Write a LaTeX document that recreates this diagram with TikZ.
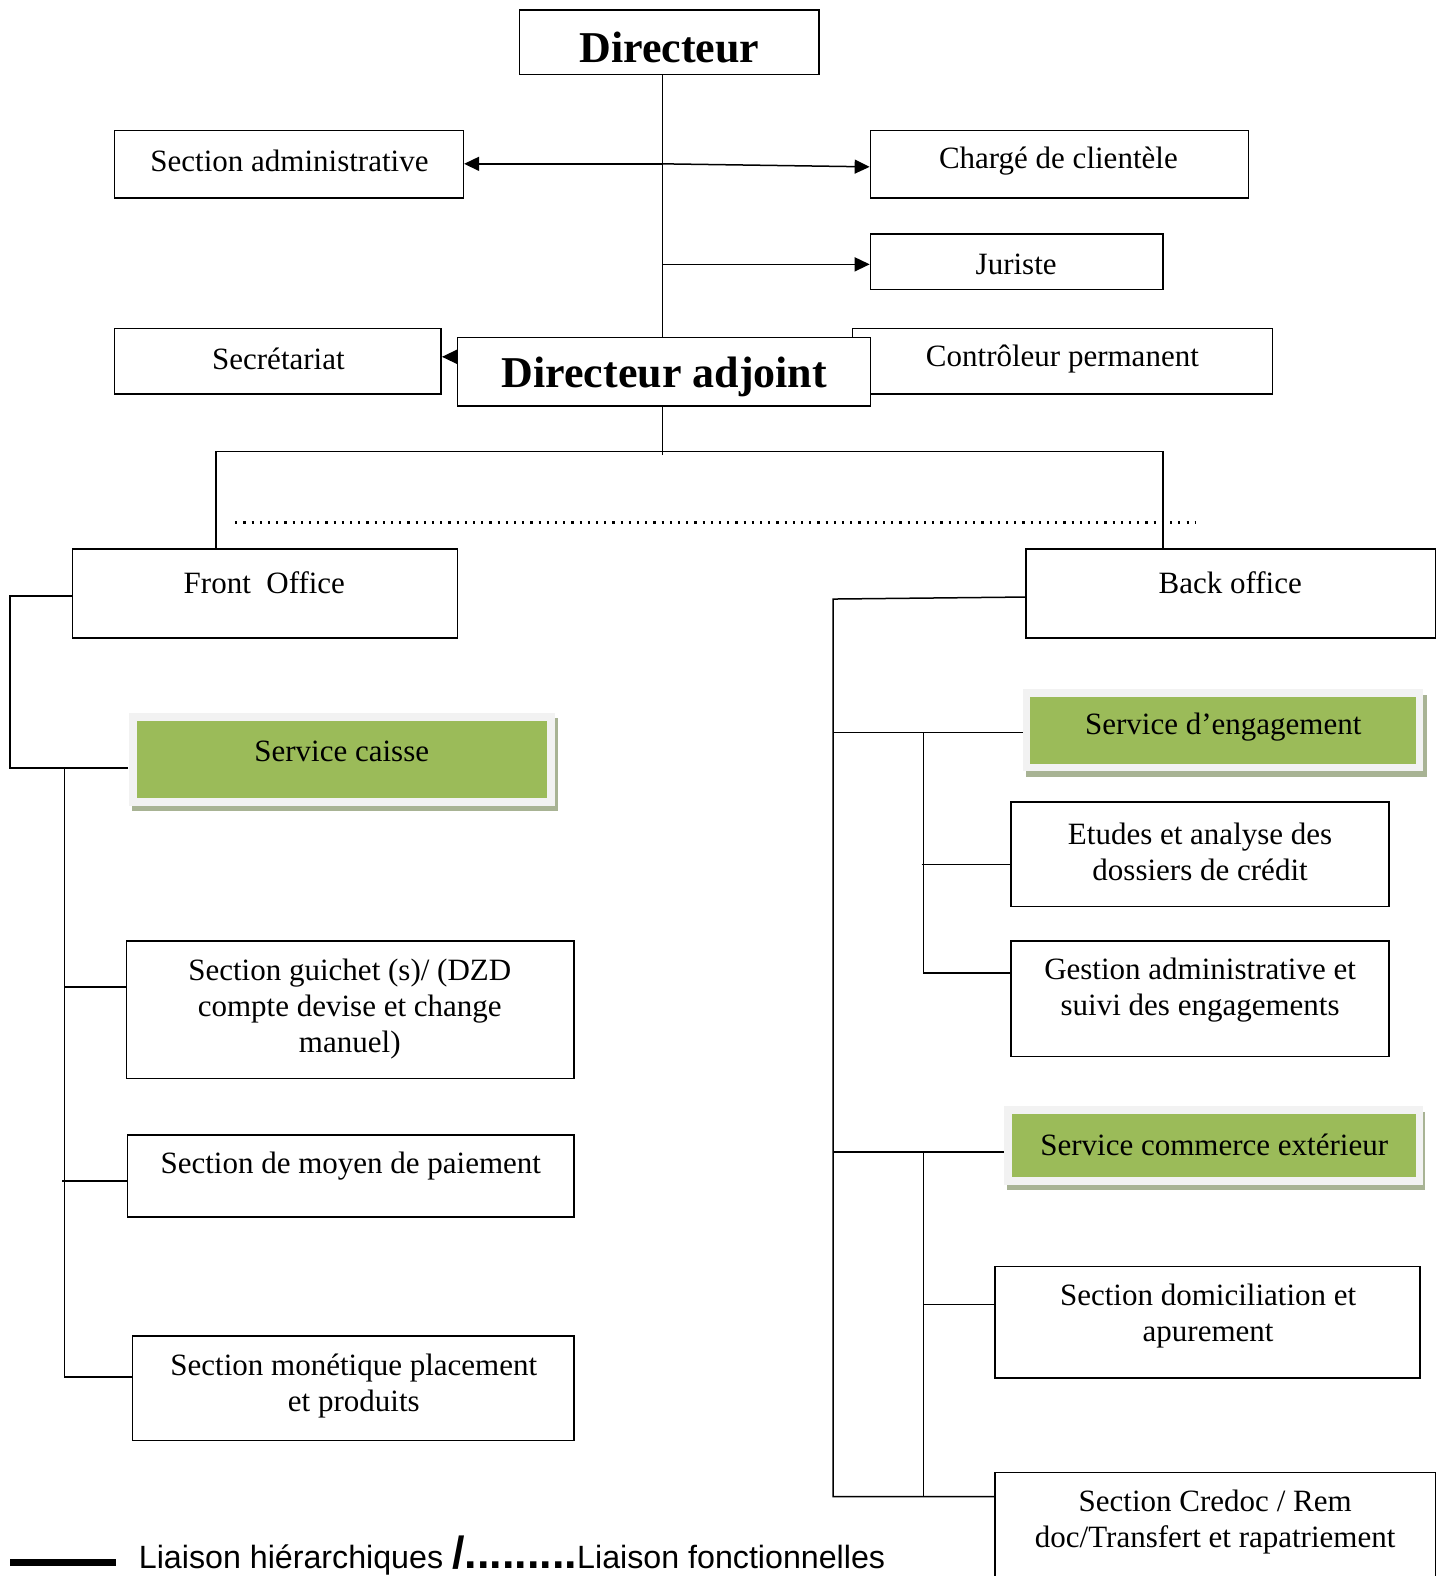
\documentclass[tikz,border=0pt]{standalone}
\usepackage{fontspec}
\setmainfont{Liberation Serif}
\newfontfamily\legendfont{Liberation Sans}
\usetikzlibrary{fit,arrows.meta}
\definecolor{grn}{HTML}{9BBB59}
\definecolor{frm}{HTML}{F2F2F2}
\definecolor{shd}{HTML}{A8B394}
\begin{document}
\begin{tikzpicture}[x=1.005pt,y=-1.005pt,
  box/.style={draw,line width=1.5pt,inner sep=0pt,fill=white},
  frame/.style={fill=frm,inner sep=0pt},
  gbox/.style={fill=grn,inner sep=0pt},
  lbl/.style={font=\fontsize{31}{36}\selectfont,align=center,inner sep=0pt,yshift=-2.5pt},
  big/.style={font=\fontsize{44}{50}\selectfont\bfseries,inner sep=0pt},
  ln/.style={line width=1.5pt},
  arr/.style={line width=1.5pt,-{Triangle[length=15pt,width=14pt]}}]
\clip (0,0) rectangle (1439,1568);
\fill[white] (0,0) rectangle (1439,1568);

% ---- top part ----
\node[box,fit={(517,10)(815,74)}] (dir) {};
\node[big] (dirt) at (666,47) {Directeur};

\node[box,fit={(114,130)(461,197)}] (secadm) {};
\node[lbl] (secadmt) at (288,158) {Section administrative};

\node[box,fit={(866,130)(1242,197)}] (charg) {};
\node[lbl] (chargt) at (1053,158) {Chargé de clientèle};

\node[box,fit={(866,233)(1157,288)}] (jur) {};
\node[lbl] (jurt) at (1011,261) {Juriste};

\node[box,fit={(114,327)(439,392)}] (secr) {};
\node[lbl] (secrt) at (277,355) {Secrétariat};

\node[box,fit={(848,327)(1266,392)}] (ctrl) {};
\node[lbl] (ctrlt) at (1057,355) {Contrôleur permanent};

\coordinate (tA) at (659,163);
\coordinate (tB) at (659,263);
\coordinate (tS) at (455,355);
\draw[ln] (tA |- dir.south) -- (tA |- 0,336);
\draw[arr] (tA) -- (secadm.east |- tA);
\draw[arr] (tA) -- ([yshift=-2.5pt]charg.west);
\draw[arr] (tB) -- (jur.west |- tB);

\node[box,fit={(455,336)(866,404)}] (adj) {};
\node[big] (adjt) at (661,375) {Directeur adjoint};
\draw[arr] (tS) -- (secr.east |- tS);

% ---- middle ----
\coordinate (tC) at (659,453);
\coordinate (hL) at (215,449);
\coordinate (hR) at (1157,449);
\draw[ln] (tA |- adj.south) -- (tC);
\node[box,fit={(72,546)(455,635)}] (front) {};
\node[lbl] (frontt) at (263,577) {Front\ \ Office};
\node[box,fit={(1021,546)(1428,635)}] (back) {};
\node[lbl] (backt) at (1224,577) {Back office};
\draw[ln] (front.north -| hL) -- (hL) -- (hR) -- (back.north -| hR);

\coordinate (d1) at (234,520);
\coordinate (d2) at (1190,520);
\draw[line width=2.6pt,dash pattern=on 2.2pt off 6pt] (d1) -- (d2);

% ---- left tree ----
\fill[shd] (131,714) rectangle (555,807);
\node[frame,fit={(128,709)(552,802)}] (caisse) {};
\node[gbox,fit={(136,717)(544,794)}] (caisseg) {};
\node[lbl] (caisset) at (340,745) {Service caisse};

\node[box,fit={(126,936)(571,1073)}] (guich) {};
\node[lbl] (guicht) at (348,1001) {Section guichet (s)/ (DZD\\compte devise et change\\manuel)};

\node[box,fit={(127,1129)(571,1211)}] (moyen) {};
\node[lbl] (moyent) at (349,1158) {Section de moyen de paiement};

\node[box,fit={(132,1329)(571,1433)}] (monet) {};
\node[lbl] (monett) at (352,1376) {Section monétique placement\\et produits};

\coordinate (L0) at (10,593);
\coordinate (L1) at (10,764);
\coordinate (V1) at (64,764);
\coordinate (V2) at (64,982);
\coordinate (V3) at (62,1175);
\coordinate (V4) at (64,1370);
\draw[ln] (front.west |- L0) -- (L0) -- (L1) -- (caisse.west |- L1);
\draw[ln] (V1) -- (V4) -- (monet.west |- V4);
\draw[ln] (V2) -- (guich.west |- V2);
\draw[ln] (V3) -- (moyen.west |- V3);

% ---- right tree ----
\fill[shd] (1021,691) rectangle (1420,773);
\node[frame,fit={(1018,685)(1416,767)}] (eng) {};
\node[gbox,fit={(1025,693)(1409,760)}] (engg) {};
\node[lbl] (engt) at (1217,721) {Service d’engagement};

\node[box,fit={(1006,798)(1382,902)}] (etud) {};
\node[lbl] (etudt) at (1194,845) {Etudes et analyse des\\dossiers de crédit};

\node[box,fit={(1006,936)(1382,1051)}] (gest) {};
\node[lbl] (gestt) at (1194,983) {Gestion administrative et\\suivi des engagements};

\fill[shd] (1002,1106) rectangle (1418,1184);
\node[frame,fit={(999,1100)(1416,1179)}] (comm) {};
\node[gbox,fit={(1007,1108)(1409,1171)}] (commg) {};
\node[lbl] (commt) at (1208,1137) {Service commerce extérieur};

\node[box,fit={(990,1260)(1413,1371)}] (domi) {};
\node[lbl] (domit) at (1202,1307) {Section domiciliation et\\apurement};

\node[box,fit={(990,1465)(1428,1590)}] (cred) {};
\node[lbl] (credt) at (1209,1512) {Section Credoc / Rem\\doc/Transfert et rapatriement};

\coordinate (R0) at (829,596);
\coordinate (R1) at (829,729);
\coordinate (R2) at (829,1146);
\coordinate (R3) at (829,1489);
\coordinate (S1) at (919,729);
\coordinate (S2) at (917,860);
\coordinate (S3) at (919,968);
\coordinate (T1) at (919,1146);
\coordinate (T2) at (919,1298);
\coordinate (T3) at (919,1489);
\draw[ln] (back.west |- 0,594) -- (R0) -- (R3) -- (cred.west |- R3);
\draw[ln] (R1) -- (eng.west |- R1);
\draw[ln] (S1) -- (S3) -- (gest.west |- S3);
\draw[ln] (S2) -- (etud.west |- S2);
\draw[ln] (R2) -- (comm.west |- R2);
\draw[ln] (T1) -- (T3);
\draw[ln] (T2) -- (domi.west |- T2);

% ---- legend ----
\coordinate (g1) at (10,1555);
\coordinate (g2) at (115,1555);
\draw[line width=7pt] (g1) -- (g2);
\node[anchor=base west,inner sep=0pt,font=\legendfont\fontsize{32.2}{36}\selectfont] (legt) at (138,1561)
  {Liaison hiérarchiques {\fontsize{45}{50}\selectfont\bfseries /.........}Liaison fonctionnelles};
\end{tikzpicture}
\end{document}
